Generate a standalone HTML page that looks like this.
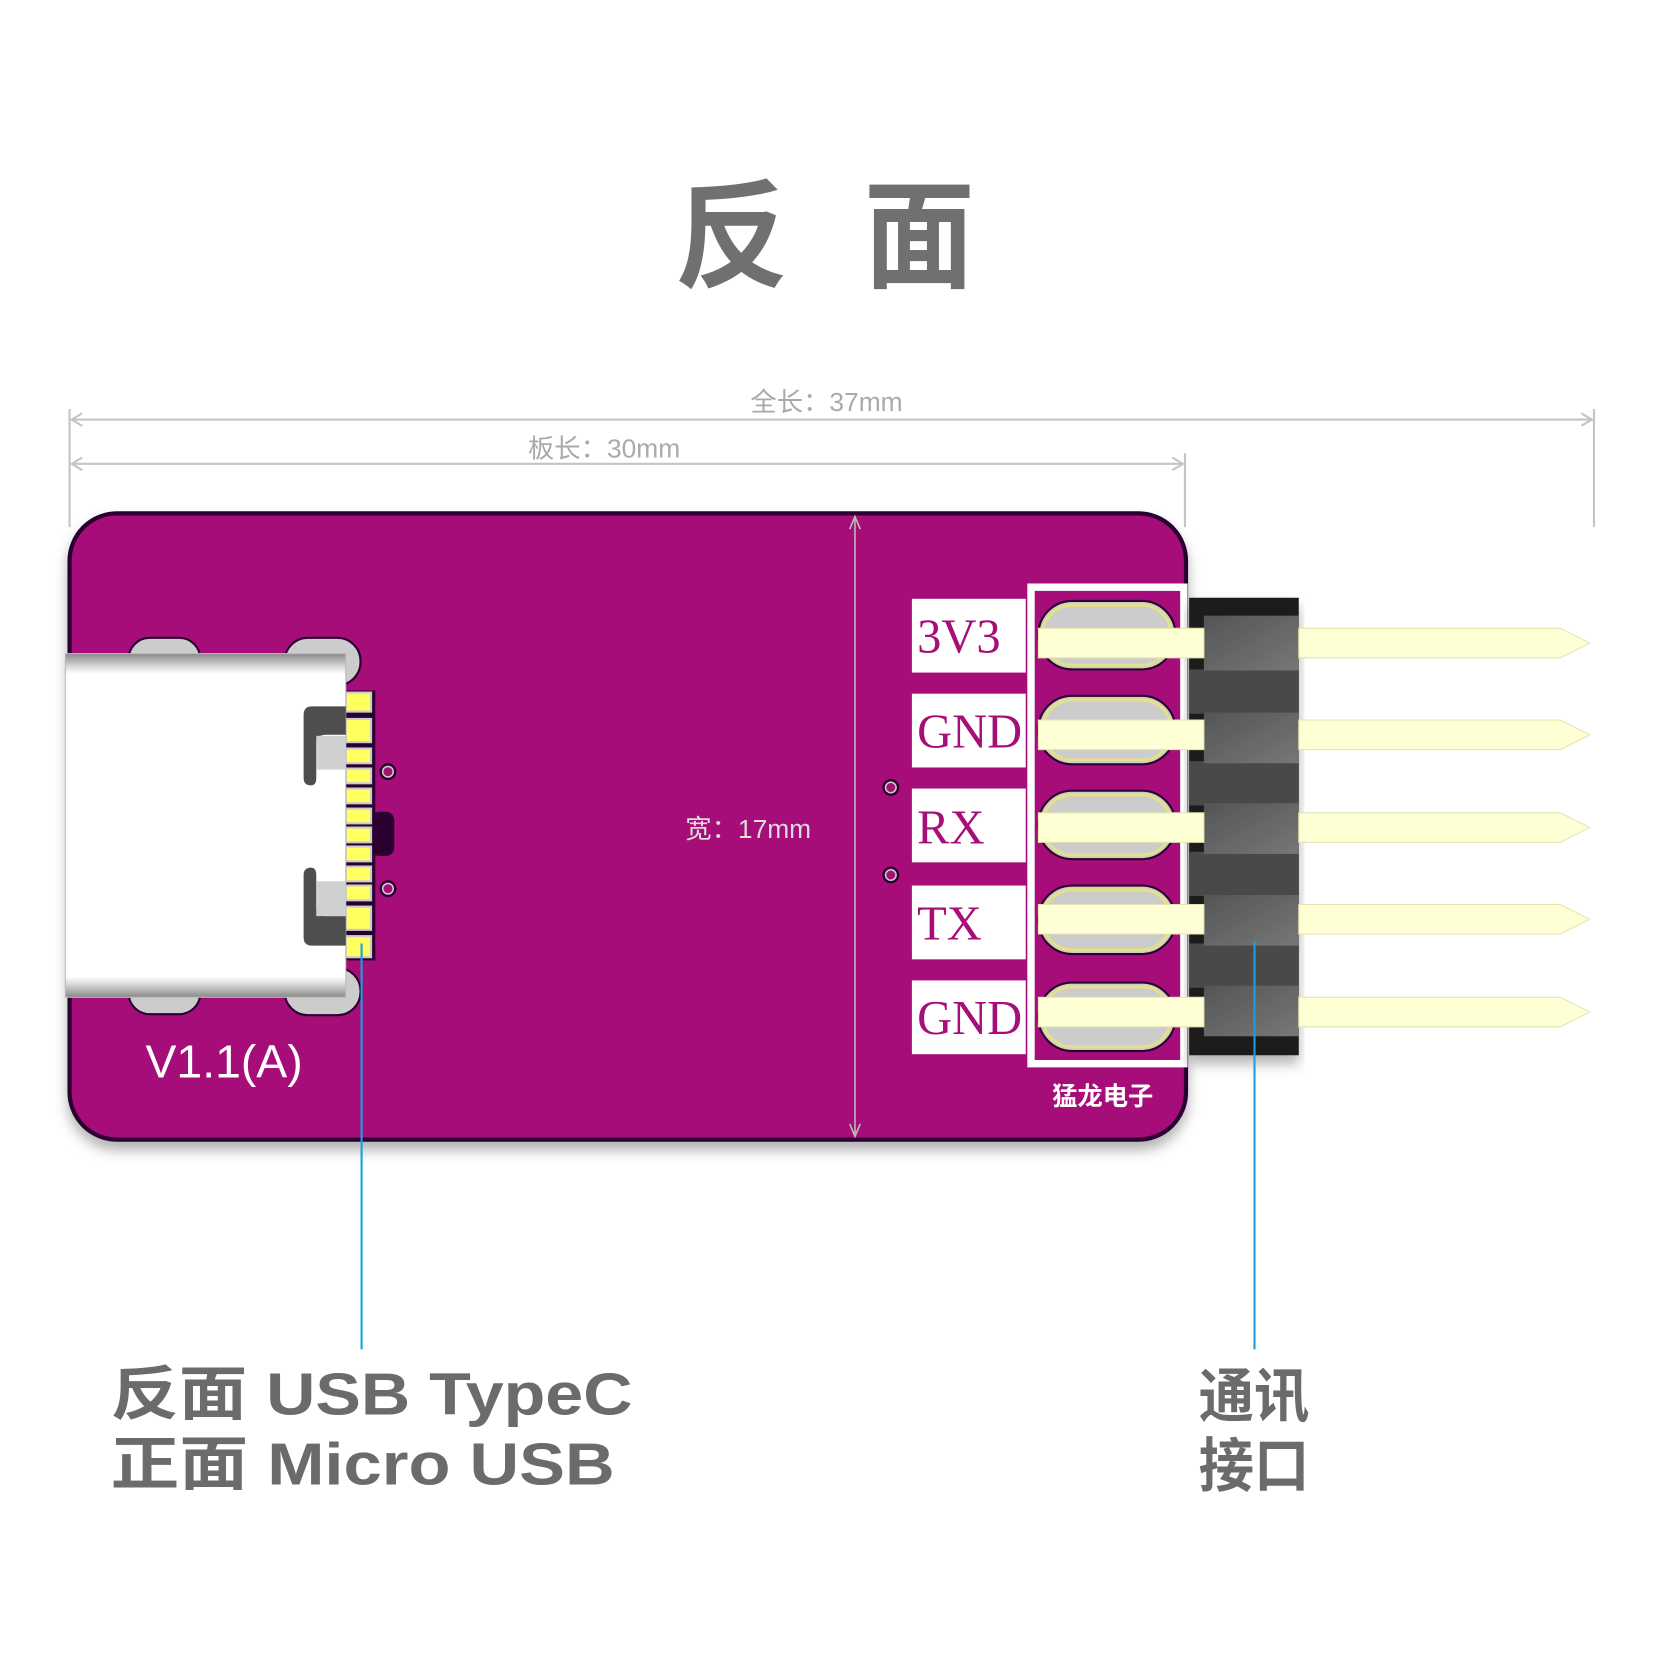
<!DOCTYPE html>
<html><head><meta charset="utf-8"><style>html,body{margin:0;padding:0;background:#fff}svg{display:block}</style></head><body>
<svg width="1653" height="1653" viewBox="0 0 1568 1568" xmlns="http://www.w3.org/2000/svg" font-family="'Liberation Sans','Noto Sans CJK SC',sans-serif">
<defs>
<linearGradient id="usb" x1="0" y1="0" x2="0" y2="1">
<stop offset="0" stop-color="#888"/><stop offset="0.04" stop-color="#ddd"/><stop offset="0.06" stop-color="#fff"/><stop offset="0.94" stop-color="#fff"/><stop offset="0.96" stop-color="#ddd"/><stop offset="1" stop-color="#888"/></linearGradient>
<linearGradient id="hdr" x1="0" y1="0" x2="1" y2="1"><stop offset="0" stop-color="#555"/><stop offset="1" stop-color="#777"/></linearGradient>
<filter id="sh" x="-5%" y="-5%" width="110%" height="115%"><feDropShadow dx="0" dy="8" stdDeviation="6" flood-color="#000" flood-opacity="0.3"/></filter>
</defs>
<g font-size="112" font-weight="bold" fill="#707070" text-anchor="middle">
<text x="694" y="264" textLength="108" lengthAdjust="spacingAndGlyphs">反</text>
<text x="872" y="264" textLength="105" lengthAdjust="spacingAndGlyphs">面</text>
</g>
<g stroke="#c4c4c4" stroke-width="2" fill="none">
<line x1="66" y1="388" x2="66" y2="500"/><line x1="1512" y1="388" x2="1512" y2="500"/><line x1="1124" y1="430" x2="1124" y2="500"/>
<line x1="68" y1="398" x2="1510" y2="398"/><line x1="68" y1="440" x2="1122" y2="440"/>
<path d="M78 392 L68 398 L78 404 M1500 392 L1510 398 L1500 404 M78 434 L68 440 L78 446 M1112 434 L1122 440 L1112 446"/>
</g>
<text x="784" y="390" text-anchor="middle" font-size="25" fill="#aaa">全长：37mm</text>
<text x="573" y="434" text-anchor="middle" font-size="25" fill="#aaa">板长：30mm</text>
<rect x="66" y="487" width="1059" height="594" rx="45" fill="#a60e78" stroke="#2a0030" stroke-width="4" filter="url(#sh)"/>
<line x1="811" y1="492" x2="811" y2="1076" stroke="#bbb" stroke-width="1.5"/>
<path d="M806 502 L811 490 L816 502 M806 1066 L811 1078 L816 1066" stroke="#bbb" stroke-width="1.5" fill="none"/>
<text x="650" y="795" font-size="25" fill="#ddd">宽：17mm</text>
<g fill="#ccc" stroke="#2a0030" stroke-width="2">
<rect x="122" y="605" width="68" height="40" rx="20"/><rect x="270" y="605" width="72" height="45" rx="22"/>
<rect x="122" y="922" width="68" height="40" rx="20"/><rect x="270" y="918" width="72" height="45" rx="22"/>
</g>
<g fill="#2a0030"><circle cx="368" cy="732" r="8"/><circle cx="368" cy="843" r="8"/><rect x="352" y="770" width="22" height="42" rx="8"/><circle cx="845" cy="747" r="8"/><circle cx="845" cy="830" r="8"/></g>
<g fill="#a60e78" stroke="#ccc" stroke-width="1.5"><circle cx="368" cy="732" r="5"/><circle cx="368" cy="843" r="5"/><circle cx="845" cy="747" r="5"/><circle cx="845" cy="830" r="5"/></g>
<rect x="326" y="655" width="30" height="256" fill="#2a0030"/>
<g fill="#ffff60" stroke="#ccc" stroke-width="2">
<rect x="328" y="657" width="24" height="18"/><rect x="328" y="682" width="24" height="22"/><rect x="328" y="710" width="24" height="14"/><rect x="328" y="729" width="24" height="14"/><rect x="328" y="748" width="24" height="14"/><rect x="328" y="767" width="24" height="14"/><rect x="328" y="785" width="24" height="14"/><rect x="328" y="803" width="24" height="14"/><rect x="328" y="822" width="24" height="14"/><rect x="328" y="840" width="24" height="14"/><rect x="328" y="860" width="24" height="22"/><rect x="328" y="888" width="24" height="20"/>
</g>
<rect x="62" y="620" width="266" height="326" fill="url(#usb)" stroke="#bbb" stroke-width="1"/>
<path d="M328 670 H296 Q288 670 288 678 V738 Q288 745 295 745 Q300 745 300 738 V705 Q300 697 310 697 H328 Z" fill="#4e4e4e"/>
<rect x="300" y="698" width="28" height="32" fill="#d0d0d0"/>
<path d="M328 897 H296 Q288 897 288 889 V830 Q288 823 295 823 Q300 823 300 830 V862 Q300 869 310 869 H328 Z" fill="#4e4e4e"/>
<rect x="300" y="836" width="28" height="33" fill="#d0d0d0"/>
<text x="138" y="1022" font-size="44" fill="#fff">V1.1(A)</text>
<g fill="#fff"><rect x="865" y="568" width="108" height="70"/><rect x="865" y="658" width="108" height="70"/><rect x="865" y="748" width="108" height="70"/><rect x="865" y="840" width="108" height="70"/><rect x="865" y="930" width="108" height="70"/></g>
<g font-family="'Liberation Serif',serif" font-size="46" fill="#a60e78">
<text x="870" y="619">3V3</text><text x="870" y="709">GND</text><text x="870" y="800">RX</text><text x="870" y="891">TX</text><text x="870" y="981">GND</text></g>
<rect x="978" y="557" width="145" height="452" fill="none" stroke="#fff" stroke-width="7"/>
<g fill="#ccc" stroke="#2a0030" stroke-width="2">
<rect x="985" y="570" width="130" height="65" rx="32"/><rect x="985" y="660" width="130" height="65" rx="32"/><rect x="985" y="750" width="130" height="65" rx="32"/><rect x="985" y="840" width="130" height="65" rx="32"/><rect x="985" y="932" width="130" height="65" rx="32"/></g>
<g fill="none" stroke="#e4df8a" stroke-width="3">
<rect x="989" y="574" width="122" height="57" rx="28"/><rect x="989" y="664" width="122" height="57" rx="28"/><rect x="989" y="754" width="122" height="57" rx="28"/><rect x="989" y="844" width="122" height="57" rx="28"/><rect x="989" y="936" width="122" height="57" rx="28"/></g>
<text x="1046" y="1048" text-anchor="middle" font-size="24" font-weight="bold" fill="#fff">猛龙电子</text>
<g filter="url(#sh)">
<rect x="1128" y="567" width="104" height="434" fill="#1e1e1e"/>
<g fill="#4a4a4a"><rect x="1128" y="635" width="104" height="42"/><rect x="1128" y="722" width="104" height="42"/><rect x="1128" y="808" width="104" height="42"/><rect x="1128" y="895" width="104" height="42"/></g>
<g fill="url(#hdr)"><rect x="1142" y="584" width="90" height="52"/><rect x="1142" y="676" width="90" height="48"/><rect x="1142" y="762" width="90" height="48"/><rect x="1142" y="849" width="90" height="48"/><rect x="1142" y="935" width="90" height="48"/></g>
</g>
<g fill="#ffffd6" stroke="#e4e4b0" stroke-width="1">
<path d="M985 596 H1142 V624 H985 Z M1232 596 H1480 L1508 610 L1480 624 H1232 Z"/>
<path d="M985 683 H1142 V711 H985 Z M1232 683 H1480 L1508 697 L1480 711 H1232 Z"/>
<path d="M985 771 H1142 V799 H985 Z M1232 771 H1480 L1508 785 L1480 799 H1232 Z"/>
<path d="M985 858 H1142 V886 H985 Z M1232 858 H1480 L1508 872 L1480 886 H1232 Z"/>
<path d="M985 946 H1142 V974 H985 Z M1232 946 H1480 L1508 960 L1480 974 H1232 Z"/>
</g>
<g stroke="#1aa0e0" stroke-width="2"><line x1="343" y1="895" x2="343" y2="1280"/><line x1="1190" y1="893" x2="1190" y2="1280"/></g>
<g font-size="56" font-weight="bold" fill="#6b6b6b">
<text x="105" y="1342" textLength="495" lengthAdjust="spacingAndGlyphs">反面 USB TypeC</text>
<text x="105" y="1408" textLength="478" lengthAdjust="spacingAndGlyphs">正面 Micro USB</text>
<text x="1137" y="1344" textLength="105" lengthAdjust="spacingAndGlyphs">通讯</text>
<text x="1137" y="1410" textLength="105" lengthAdjust="spacingAndGlyphs">接口</text>
</g>
</svg>
</body></html>
